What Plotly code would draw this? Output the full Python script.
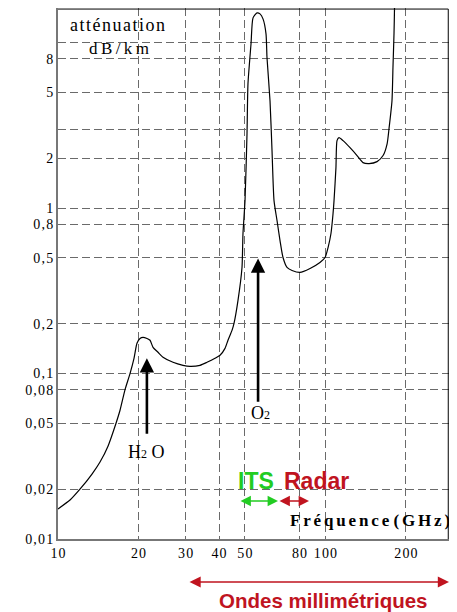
import numpy as np
import plotly.graph_objects as go

# Attenuation curve (frequency GHz, attenuation dB/km)
freq_ghz = [10.0, 11.09, 12.08, 13.40, 14.36, 15.38, 16.48, 17.06, 17.81, 18.59,
            19.24, 19.74, 20.26, 20.79, 21.52, 22.09, 22.67, 23.66, 24.70, 26.92,
            29.35, 31.16, 33.96, 36.07, 38.65, 40.35, 42.12, 43.22, 44.74, 45.52,
            47.11, 48.76, 49.18, 50.04, 50.91, 51.34, 52.70, 53.62, 55.49, 56.94,
            58.43, 59.96, 60.48, 62.06, 63.14, 64.24, 65.92, 67.65, 69.42, 71.86,
            75.03, 80.35, 87.6, 95.4, 99.7, 102.3, 104.9, 106.8, 107.7, 109.5,
            110.5, 112.4, 116.4, 123.6, 131.3, 138.2, 145.6, 156.0, 164.3, 170.1,
            172.9, 177.4, 178.9, 180.5, 181.3, 181.6]
atten_db_km = [0.0152, 0.0172, 0.0200, 0.0247, 0.0292, 0.0364, 0.0501, 0.0600, 0.080, 0.100,
               0.1237, 0.1524, 0.163, 0.1656, 0.163, 0.159, 0.144, 0.1345, 0.1255, 0.117,
               0.1122, 0.1106, 0.1122, 0.117, 0.1237, 0.129, 0.142, 0.159, 0.1825, 0.2012,
               0.277, 0.438, 0.703, 1.111, 2.82, 5.65, 9.85, 14.13, 15.15, 14.94,
               13.94, 11.32, 8.11, 4.46, 2.23, 1.111, 0.842, 0.637, 0.503, 0.438,
               0.420, 0.4087, 0.432, 0.4695, 0.503, 0.578, 0.703, 0.928, 1.111, 1.758,
               2.56, 2.67, 2.56, 2.32, 2.08, 1.885, 1.859, 1.911, 2.08, 2.45,
               3.02, 4.46, 7.06, 11.32, 16.2, 25.0]

HS = "\u200a"  # hair space, used for the loose letter spacing of the original
x_tick_vals = [10, 20, 30, 40, 50, 80, 100, 200, 300]
x_tick_labels = ["10", "20", "30", "40", "50", "80", "100", "200", "300"]
y_tick_vals = [0.01, 0.02, 0.05, 0.08, 0.1, 0.2, 0.5, 0.8, 1, 2, 3, 5, 8, 10]
y_tick_labels = ["0,01", "0,02", "0,05", "0,08", "0,1", "0,2", "0,5", "0,8", "1", "2", "", "5", "8", ""]

# Annotation arrows (frequency, from, to)
h2o_arrow = (21.5, 0.0424, 0.1237)
o2_arrow = (56.0, 0.0662, 0.4965)
h2o_label = (21.5, 0.0335)
o2_label = (57.0, 0.0576)

RED = "#c0141f"
GREEN = "#22cc22"
SERIF = "Liberation Serif, Times New Roman, serif"
SANS = "Liberation Sans, Arial, sans-serif"


def spaced(s, sep=HS):
    return sep.join(list(s))


fig = go.Figure()
fig.add_trace(go.Scatter(x=freq_ghz, y=atten_db_km, mode="lines",
                         line=dict(color="black", width=1.2, shape="spline", smoothing=0.6),
                         showlegend=False, hoverinfo="skip"))

grid = dict(showgrid=True, gridcolor="#6a6a6a", gridwidth=1, griddash="8px,4px")

fig.update_xaxes(type="log", range=[1, np.log10(300)], tickvals=x_tick_vals,
                 ticktext=[spaced(t) for t in x_tick_labels],
                 tickfont=dict(family=SERIF, size=14, color="black"), ticks="", automargin=False,
                 showline=True, linecolor="#777777", linewidth=2, zeroline=False, **grid)
fig.update_yaxes(type="log", range=[-2, 1.21], tickvals=y_tick_vals,
                 ticktext=[spaced(t) for t in y_tick_labels],
                 tickfont=dict(family=SERIF, size=14, color="black"), ticks="", automargin=False,
                 showline=True, linecolor="#777777", linewidth=2, zeroline=False, **grid)

# top / right frame (kept inside the visible part of the page)
fig.add_shape(type="line", xref="x domain", yref="y domain", x0=0, x1=0.988, y0=0.998, y1=0.998,
              line=dict(color="black", width=1))
fig.add_shape(type="line", xref="x domain", yref="y domain", x0=0.988, x1=0.988, y0=0, y1=0.998,
              line=dict(color="black", width=1))

ann = []
# molecule arrows
for (f, y0, y1) in (h2o_arrow, o2_arrow):
    ann.append(dict(x=np.log10(f), y=np.log10(y1), ax=np.log10(f), ay=np.log10(y0),
                    xref="x", yref="y", axref="x", ayref="y", text="", showarrow=True,
                    arrowhead=2, arrowsize=1.1, arrowwidth=2.6, arrowcolor="black", standoff=0))
ann.append(dict(x=np.log10(h2o_label[0]), y=np.log10(h2o_label[1]), xref="x", yref="y",
                text="H<span style='font-size:12px'>2</span> O", showarrow=False,
                xanchor="center", yanchor="middle",
                font=dict(family=SERIF, size=18, color="black")))
ann.append(dict(x=np.log10(o2_label[0]), y=np.log10(o2_label[1]), xref="x", yref="y",
                text="O<span style='font-size:12px'>2</span>", showarrow=False,
                xanchor="center", yanchor="middle",
                font=dict(family=SERIF, size=18, color="black")))


def ptx(px):
    return (px - 58) / 395


def pty(py):
    return (539 - py) / 531


# axis titles inside plot
ann.append(dict(x=ptx(117), y=pty(25), xref="paper", yref="paper",
                text=spaced("atténuation"), showarrow=False,
                xanchor="center", yanchor="middle", font=dict(family=SERIF, size=18, color="black")))
ann.append(dict(x=ptx(119), y=pty(48), xref="paper", yref="paper",
                text=spaced("dB/km", "\u2009"), showarrow=False,
                xanchor="center", yanchor="middle", font=dict(family=SERIF, size=17, color="black")))
ann.append(dict(x=ptx(370), y=pty(520), xref="paper", yref="paper",
                text="<b>" + spaced("Fréquence", HS + HS) + " " + spaced("(GHz)", HS + HS) + "</b>",
                showarrow=False, xanchor="center", yanchor="middle",
                font=dict(family=SERIF, size=17, color="black")))

# ITS / Radar
ann.append(dict(x=ptx(256), y=pty(481), xref="paper", yref="paper", text="<b>ITS</b>", showarrow=False,
                xanchor="center", yanchor="middle", font=dict(family=SANS, size=23, color=GREEN)))
ann.append(dict(x=ptx(316), y=pty(481), xref="paper", yref="paper", text="<b>Radar</b>", showarrow=False,
                xanchor="center", yanchor="middle", font=dict(family=SANS, size=23, color=RED)))
ann.append(dict(x=ptx(278), y=pty(501), xref="paper", yref="paper", ax=-39, ay=0, text="",
                showarrow=True, arrowhead=2, arrowside="end+start", arrowsize=1.3, arrowwidth=1.6,
                arrowcolor=GREEN, standoff=0, startstandoff=0))
ann.append(dict(x=ptx(309), y=pty(501), xref="paper", yref="paper", ax=-31, ay=0, text="",
                showarrow=True, arrowhead=2, arrowside="end+start", arrowsize=1.3, arrowwidth=1.6,
                arrowcolor=RED, standoff=0, startstandoff=0))

# Ondes millimetriques
ann.append(dict(x=ptx(449), y=pty(582), xref="paper", yref="paper", ax=-261, ay=0, text="",
                showarrow=True, arrowhead=2, arrowside="end+start", arrowsize=1.4, arrowwidth=1.6,
                arrowcolor=RED, standoff=0, startstandoff=0))
ann.append(dict(x=ptx(323), y=pty(601), xref="paper", yref="paper", text="<b>Ondes millimétriques</b>",
                showarrow=False, xanchor="center", yanchor="middle",
                font=dict(family=SANS, size=20.5, color=RED)))

# the page body adds an 8 px offset, so the figure is sized to the visible area
fig.update_layout(width=449, height=604, margin=dict(l=50, r=4, t=0, b=73),
                  paper_bgcolor="white", plot_bgcolor="white", annotations=ann, showlegend=False)

fig.write_html("out.html")
